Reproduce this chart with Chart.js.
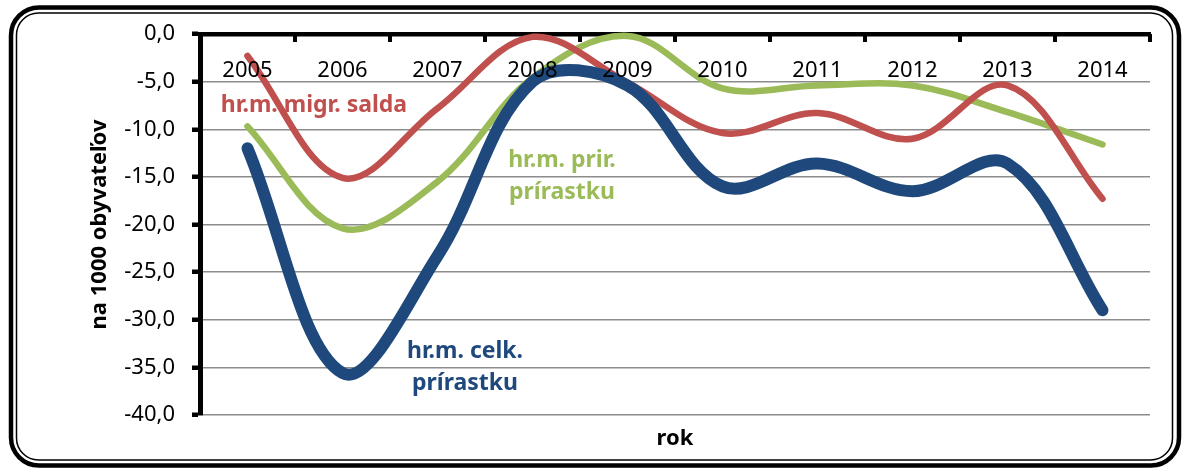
<!DOCTYPE html>
<html lang="sk">
<head>
    <meta charset="UTF-8">
    <title>Hrubá miera prírastku</title>
    <style>
        body {
            margin: 0;
            background-color: white;
        }
        #wrap {
            position: relative;
            width: 1183px;
            height: 469px;
        }
    </style>
    <script src="https://cdn.jsdelivr.net/npm/chart.js"></script>
</head>
<body>
    <div id="wrap"><canvas id="chart"></canvas></div>

    <script>
        // data (na 1000 obyvateľov)
        const years = ['2005', '2006', '2007', '2008', '2009', '2010', '2011', '2012', '2013', '2014'];
        const celkPrirastok = [-12.0, -35.6, -23.3, -5.0, -5.4, -16.0, -13.6, -16.5, -13.6, -29.0];
        const migrSaldo = [-2.3, -15.1, -7.8, -0.3, -5.1, -10.4, -8.3, -11.0, -5.4, -17.3];
        const prirPrirastok = [-9.7, -20.4, -15.5, -4.6, -0.2, -5.7, -5.4, -5.4, -8.2, -11.6];

        const yMin = -40;
        const yMax = 0;
        const yStep = 5;

        const FONT = '"Noto Sans", "Open Sans", sans-serif';
        const BLUE = '#1f497d';
        const RED = '#c0504d';
        const GREEN = '#9bbb59';

        // series labels, placed in data units (category index, value)
        const seriesLabels = [
            { lines: ['hr.m. migr. salda'], color: RED, at: 0.70, val: -8.15 },
            { lines: ['hr.m. prir.', 'prírastku'], color: GREEN, at: 3.31, val: -13.95 },
            { lines: ['hr.m. celk.', 'prírastku'], color: BLUE, at: 2.29, val: -34.05 }
        ];

        function roundRect(ctx, x, y, w, h, r) {
            ctx.beginPath();
            ctx.moveTo(x + r, y);
            ctx.arcTo(x + w, y, x + w, y + h, r);
            ctx.arcTo(x + w, y + h, x, y + h, r);
            ctx.arcTo(x, y + h, x, y, r);
            ctx.arcTo(x, y, x + w, y, r);
            ctx.closePath();
        }

        const decor = {
            id: 'decor',
            beforeDraw(chart) {
                const ctx = chart.ctx;
                ctx.save();
                ctx.strokeStyle = '#000';
                ctx.lineWidth = 4.5;
                roundRect(ctx, 11, 7.5, 1168, 458, 28);
                ctx.stroke();
                ctx.lineWidth = 1.5;
                roundRect(ctx, 16.5, 13, 1156, 447, 22);
                ctx.stroke();
                ctx.restore();
            },
            beforeDatasetsDraw(chart) {
                const ctx = chart.ctx;
                const x = chart.scales.x;
                const y = chart.scales.y;
                ctx.save();
                ctx.font = 'bold 23px ' + FONT;
                ctx.textAlign = 'center';
                ctx.textBaseline = 'alphabetic';
                seriesLabels.forEach(l => {
                    const px = x.getPixelForValue(l.at);
                    const py = y.getPixelForValue(l.val);
                    ctx.fillStyle = l.color;
                    l.lines.forEach((t, i) => ctx.fillText(t, px, py + i * 32));
                });
                ctx.restore();
            },
            afterDatasetsDraw(chart) {
                const ctx = chart.ctx;
                const x = chart.scales.x;
                const area = chart.chartArea;
                const half = (x.getPixelForValue(1) - x.getPixelForValue(0)) / 2;
                ctx.save();
                // tick marks between categories, hanging into the plot
                ctx.strokeStyle = '#000';
                ctx.lineWidth = 4;
                for (let i = 0; i < years.length; i++) {
                    const px = x.getPixelForValue(i) + half;
                    ctx.beginPath();
                    ctx.moveTo(px, area.top);
                    ctx.lineTo(px, area.top + 8);
                    ctx.stroke();
                }
                // year labels under the top axis
                ctx.fillStyle = '#000';
                ctx.font = '22px ' + FONT;
                ctx.textAlign = 'center';
                ctx.textBaseline = 'alphabetic';
                years.forEach((yr, i) => ctx.fillText(yr, x.getPixelForValue(i), area.top + 43));
                // x axis title
                ctx.font = 'bold 22px ' + FONT;
                ctx.fillText('rok', (area.left + area.right) / 2, area.bottom + 30);
                ctx.restore();
            }
        };

        function makeSet(label, data, color, width) {
            return {
                label: label,
                data: data,
                borderColor: color,
                backgroundColor: color,
                borderWidth: width,
                borderCapStyle: 'round',
                borderJoinStyle: 'round',
                pointRadius: 0,
                tension: 0.36,
                fill: false,
                clip: false
            };
        }

        new Chart(document.getElementById('chart'), {
            type: 'line',
            data: {
                labels: years,
                datasets: [
                    makeSet('hr.m. celk. prírastku', celkPrirastok, BLUE, 12),
                    makeSet('hr.m. migr. salda', migrSaldo, RED, 6.5),
                    makeSet('hr.m. prir. prírastku', prirPrirastok, GREEN, 6.5)
                ]
            },
            options: {
                responsive: true,
                maintainAspectRatio: false,
                animation: false,
                devicePixelRatio: 1,
                layout: {
                    padding: { left: 80, right: 33, top: 34, bottom: 54 }
                },
                plugins: {
                    legend: { display: false },
                    tooltip: { enabled: false }
                },
                scales: {
                    x: {
                        type: 'category',
                        position: 'top',
                        offset: true,
                        ticks: { display: false },
                        grid: { display: false, drawTicks: false },
                        border: { display: true, color: '#000', width: 4.5 },
                        afterFit(s) { s.height = 0; }
                    },
                    y: {
                        min: yMin,
                        max: yMax,
                        ticks: {
                            stepSize: yStep,
                            padding: 17,
                            color: '#000',
                            font: { family: FONT, size: 22 },
                            callback: v => v.toFixed(1).replace('.', ',')
                        },
                        grid: {
                            color: '#8c8c8c',
                            lineWidth: 1.5,
                            tickColor: '#000',
                            tickWidth: 4.5,
                            tickLength: 8
                        },
                        border: { display: true, color: '#000', width: 5 },
                        title: {
                            display: true,
                            text: 'na 1000 obyvateľov',
                            color: '#000',
                            font: { family: FONT, size: 22, weight: 'bold' },
                            padding: { top: 7, bottom: 0 }
                        },
                        afterFit(s) { s.width = 120; }
                    }
                }
            },
            plugins: [decor]
        });
    </script>
</body>
</html>
